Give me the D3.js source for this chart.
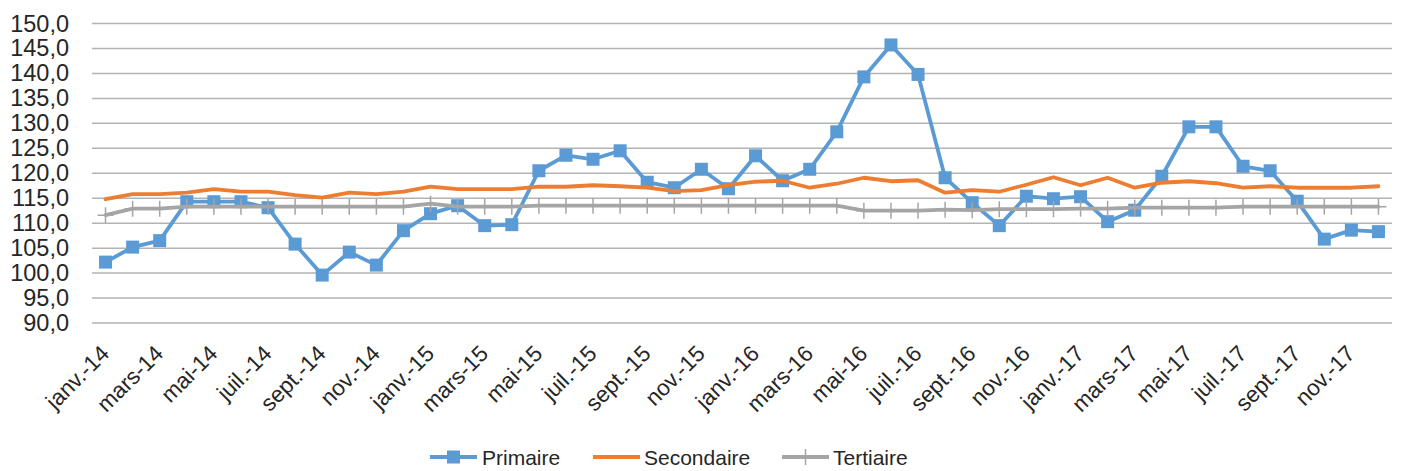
<!DOCTYPE html>
<html>
<head>
<meta charset="utf-8">
<script src="https://cdn.jsdelivr.net/npm/d3@7"></script>
<style>
  html, body { margin: 0; padding: 0; background: #fff; }
  svg { display: block; font-family: "Liberation Sans", Arial, sans-serif; }
</style>
</head>
<body>
<svg id="chart" width="1410" height="471"></svg>
<script>
// ---- Data ----
const months = ["janv.", "févr.", "mars", "avr.", "mai", "juin", "juil.", "août", "sept.", "oct.", "nov.", "déc."];
const years = ["14", "15", "16", "17"];
const categories = years.flatMap(y => months.map(m => m + "-" + y));

const primaire = [
  102.2, 105.2, 106.5, 114.3, 114.3, 114.3, 113.1, 105.8, 99.6, 104.2, 101.6, 108.5,
  111.9, 113.5, 109.5, 109.7, 120.5, 123.6, 122.8, 124.5, 118.2, 117.1, 120.8, 116.9,
  123.5, 118.5, 120.8, 128.3, 139.3, 145.7, 139.8, 119.1, 114.1, 109.5, 115.4, 114.9,
  115.3, 110.3, 112.6, 119.4, 129.3, 129.3, 121.4, 120.5, 114.4, 106.8, 108.6, 108.3
];
const secondaire = [
  114.8, 115.8, 115.8, 116.1, 116.8, 116.3, 116.3, 115.6, 115.1, 116.1, 115.8, 116.3,
  117.3, 116.8, 116.8, 116.8, 117.3, 117.3, 117.6, 117.4, 117.1, 116.4, 116.6, 117.6,
  118.3, 118.5, 117.1, 117.9, 119.1, 118.4, 118.6, 116.1, 116.6, 116.3, 117.7, 119.2,
  117.6, 119.1, 117.1, 118.1, 118.4, 118.0, 117.1, 117.4, 117.1, 117.1, 117.1, 117.4
];
const tertiaire = [
  111.6, 112.9, 112.9, 113.3, 113.3, 113.3, 113.3, 113.3, 113.3, 113.3, 113.3, 113.3,
  113.9, 113.3, 113.3, 113.3, 113.5, 113.5, 113.5, 113.5, 113.5, 113.5, 113.5, 113.5,
  113.5, 113.5, 113.5, 113.5, 112.5, 112.5, 112.5, 112.7, 112.6, 112.8, 112.8, 112.8,
  112.9, 112.9, 113.1, 113.1, 113.1, 113.1, 113.3, 113.3, 113.3, 113.3, 113.3, 113.3
];
const seriesNames = ["Primaire", "Secondaire", "Tertiaire"];
const yTicks = [90, 95, 100, 105, 110, 115, 120, 125, 130, 135, 140, 145, 150];

// ---- Layout ----
const svg = d3.select("#chart");
const plotLeft = 92, plotRight = 1392, plotTop = 23.5, plotBottom = 323;
const colors = { Primaire: "#5B9BD5", Secondaire: "#ED7D31", Tertiaire: "#A5A5A5" };

const x = d3.scalePoint().domain(categories).range([plotLeft, plotRight]).padding(0.5);
const y = d3.scaleLinear().domain([90, 150]).range([plotBottom, plotTop]);

const fmt = v => d3.format(".1f")(v).replace(".", ",");

// Gridlines
svg.append("g")
  .selectAll("line")
  .data(yTicks)
  .join("line")
  .attr("x1", plotLeft).attr("x2", plotRight)
  .attr("y1", d => y(d)).attr("y2", d => y(d))
  .attr("stroke", "#b3b3b3").attr("stroke-width", 1.5);

// Y axis labels
const yAxis = d3.axisLeft(y).tickValues(yTicks).tickFormat(fmt).tickSize(0).tickPadding(0);
const yg = svg.append("g").attr("transform", `translate(${plotLeft - 23},0)`).call(yAxis);
yg.select(".domain").remove();
yg.selectAll("text").attr("font-size", 23.5).attr("fill", "#262626")
  .attr("font-family", "'Liberation Sans', Arial, sans-serif");

// X axis labels (every other month)
const xLabels = categories.filter((c, i) => i % 2 === 0);
svg.append("g")
  .selectAll("text")
  .data(xLabels)
  .join("text")
  .attr("transform", d => `translate(${x(d) + 5},${355}) rotate(-45)`)
  .attr("text-anchor", "end")
  .attr("font-size", 22.5)
  .attr("fill", "#262626")
  .text(d => d);

// Lines
const line = d3.line().x((d, i) => x(categories[i])).y(d => y(d));
const allSeries = [
  { name: "Primaire", values: primaire },
  { name: "Secondaire", values: secondaire },
  { name: "Tertiaire", values: tertiaire }
];

allSeries.forEach(s => {
  const g = svg.append("g");
  g.append("path")
    .datum(s.values)
    .attr("d", line)
    .attr("fill", "none")
    .attr("stroke", colors[s.name])
    .attr("stroke-width", 3.8)
    .attr("stroke-linejoin", "round")
    .attr("stroke-linecap", "round");
  if (s.name === "Primaire") {
    const sz = 13;
    g.selectAll("rect")
      .data(s.values)
      .join("rect")
      .attr("x", (d, i) => x(categories[i]) - sz / 2)
      .attr("y", d => y(d) - sz / 2)
      .attr("width", sz).attr("height", sz)
      .attr("fill", colors.Primaire);
  } else if (s.name === "Tertiaire") {
    g.selectAll("path.plus")
      .data(s.values)
      .join("path")
      .attr("class", "plus")
      .attr("d", (d, i) => {
        const cx = x(categories[i]), cy = y(d);
        return `M${cx},${cy - 8}V${cy + 8}M${cx - 8},${cy}H${cx + 8}`;
      })
      .attr("stroke", colors.Tertiaire)
      .attr("stroke-width", 1.5)
      .attr("fill", "none");
  }
});

// Legend
const legendY = 457;
const legendItems = [
  { name: "Primaire", x0: 430, x1: 477, tx: 482 },
  { name: "Secondaire", x0: 593, x1: 640, tx: 644 },
  { name: "Tertiaire", x0: 782, x1: 829, tx: 833 }
];
const lg = svg.append("g");
legendItems.forEach(it => {
  lg.append("line")
    .attr("x1", it.x0).attr("x2", it.x1)
    .attr("y1", legendY).attr("y2", legendY)
    .attr("stroke", colors[it.name]).attr("stroke-width", 3.8);
  const cx = (it.x0 + it.x1) / 2;
  if (it.name === "Primaire") {
    lg.append("rect").attr("x", cx - 6.5).attr("y", legendY - 6.5)
      .attr("width", 13).attr("height", 13).attr("fill", colors.Primaire);
  } else if (it.name === "Tertiaire") {
    lg.append("path").attr("d", `M${cx},${legendY - 8}V${legendY + 8}`)
      .attr("stroke", colors.Tertiaire).attr("stroke-width", 1.5);
  }
  lg.append("text")
    .attr("x", it.tx).attr("y", legendY)
    .attr("dy", "0.36em")
    .attr("font-size", 21)
    .attr("fill", "#262626")
    .text(it.name);
});
</script>
</body>
</html>
